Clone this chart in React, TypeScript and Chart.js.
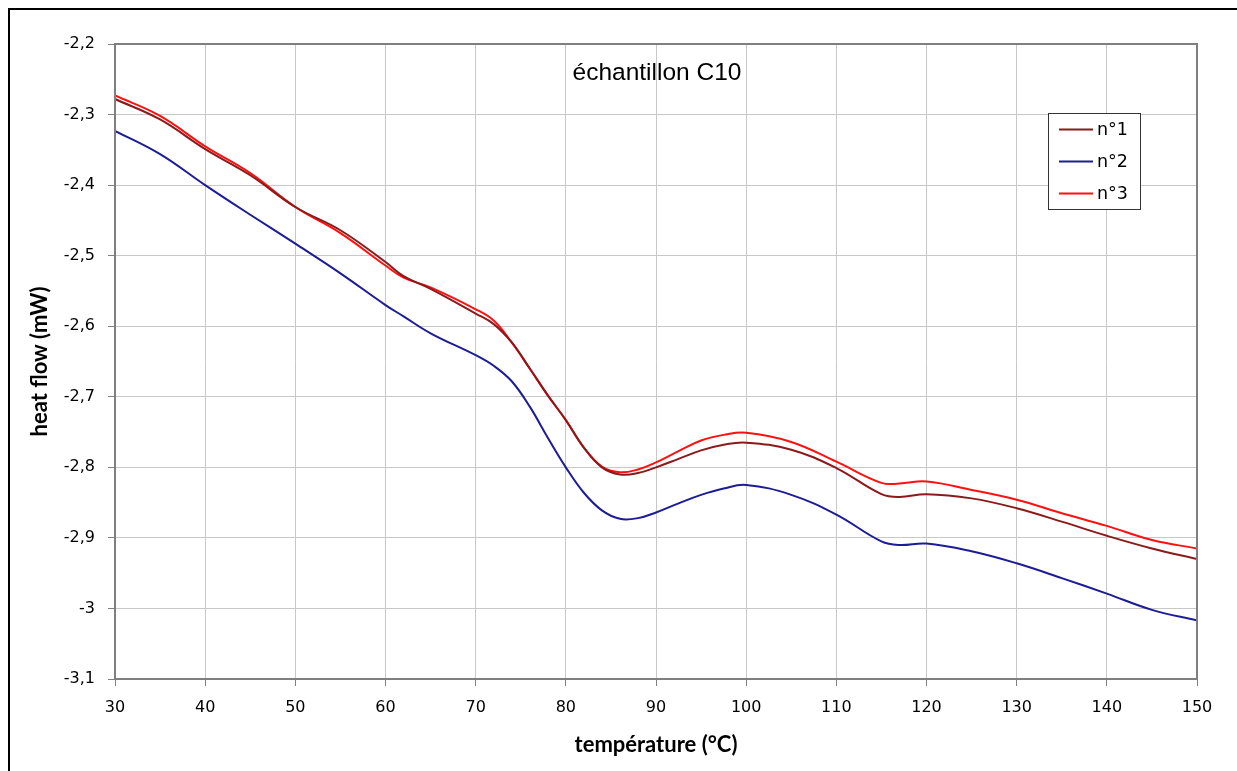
import React, { useEffect, useRef } from "react";
import { Chart, registerables } from "chart.js";

Chart.register(...registerables);

const temperatures = [30, 35, 40, 45, 50, 55, 60, 62, 65, 70, 72, 74, 76, 78, 80, 82, 84, 86, 88, 90, 92.5, 95, 97.5, 100, 105, 110, 115, 117, 120, 125, 130, 135, 140, 145, 150];

const serie1 = [-2.278, -2.307, -2.349, -2.386, -2.431, -2.464, -2.509, -2.529, -2.547, -2.582, -2.597, -2.623, -2.660, -2.698, -2.733, -2.772, -2.800, -2.810, -2.808, -2.800, -2.788, -2.776, -2.768, -2.765, -2.775, -2.801, -2.838, -2.842, -2.838, -2.844, -2.858, -2.877, -2.897, -2.915, -2.930];

const serie2 = [-2.323, -2.356, -2.400, -2.442, -2.483, -2.525, -2.570, -2.586, -2.610, -2.641, -2.656, -2.678, -2.714, -2.758, -2.800, -2.836, -2.861, -2.873, -2.872, -2.864, -2.851, -2.839, -2.830, -2.825, -2.839, -2.867, -2.905, -2.910, -2.908, -2.919, -2.936, -2.957, -2.979, -3.002, -3.017];

const serie3 = [-2.273, -2.302, -2.345, -2.383, -2.431, -2.468, -2.514, -2.531, -2.545, -2.576, -2.592, -2.623, -2.660, -2.698, -2.733, -2.772, -2.799, -2.807, -2.803, -2.793, -2.777, -2.762, -2.754, -2.751, -2.764, -2.792, -2.822, -2.823, -2.820, -2.832, -2.846, -2.865, -2.883, -2.903, -2.915];

const seriesLabels = ["n°1", "n°2", "n°3"];
const seriesColors = ["#8b1a1a", "#1c1c96", "#ff1010"];
const chartTitle = "échantillon C10";
const xTitle = "température (°C)";
const yTitle = "heat flow (mW)";

const toPoints = (vals: number[]) => vals.map((v, i) => ({ x: temperatures[i], y: v }));

const decorPlugin = {
  id: "decor",
  afterDraw(chart: any) {
    const { ctx, chartArea } = chart;
    const { left, top, right, bottom } = chartArea;
    ctx.save();
    // plot frame
    ctx.strokeStyle = "#7f7f7f";
    ctx.lineWidth = 2;
    ctx.strokeRect(left, top, right - left, bottom - top);

    // title inside plot
    ctx.fillStyle = "#000";
    ctx.font = "24.5px 'Liberation Sans', Arial, sans-serif";
    ctx.textAlign = "center";
    ctx.textBaseline = "alphabetic";
    ctx.fillText(chartTitle, 657, 80);

    // legend box
    const bx = 1048.5, by = 113.5, bw = 92, bh = 96;
    ctx.fillStyle = "#fff";
    ctx.fillRect(bx, by, bw, bh);
    ctx.strokeStyle = "#333";
    ctx.lineWidth = 1;
    ctx.strokeRect(bx, by, bw, bh);
    const rows = [129.5, 161.5, 193.5];
    ctx.font = "17.5px 'DejaVu Sans', sans-serif";
    ctx.textAlign = "left";
    ctx.textBaseline = "middle";
    chart.data.datasets.forEach((ds: any, i: number) => {
      ctx.strokeStyle = ds.borderColor;
      ctx.lineWidth = 2;
      ctx.beginPath();
      ctx.moveTo(1059, rows[i]);
      ctx.lineTo(1093, rows[i]);
      ctx.stroke();
      ctx.fillStyle = "#000";
      ctx.fillText(ds.label, 1097, rows[i] + 1);
    });
    ctx.restore();
  },
};

export default function App() {
  const canvasRef = useRef<HTMLCanvasElement | null>(null);

  useEffect(() => {
    document.documentElement.style.overflow = "hidden";
    document.body.style.overflow = "hidden";
    const canvas = canvasRef.current;
    if (!canvas) return;
    const chart = new Chart(canvas, {
      type: "line",
      data: {
        datasets: [serie1, serie2, serie3].map((s, i) => ({
          label: seriesLabels[i],
          data: toPoints(s),
          borderColor: seriesColors[i],
          backgroundColor: seriesColors[i],
          borderWidth: 2,
          pointRadius: 0,
          tension: 0.4,
          fill: false,
        })),
      },
      options: {
        responsive: false,
        animation: false,
        devicePixelRatio: 1,
        layout: { padding: { left: 0, top: 44, right: 40, bottom: 0 } },
        plugins: {
          legend: { display: false },
          title: { display: false },
          tooltip: { enabled: false },
        },
        scales: {
          x: {
            type: "linear",
            min: 30,
            max: 150,
            afterFit: (scale: any) => {
              scale.height = 92;
            },
            ticks: {
              stepSize: 10,
              padding: 12,
              color: "#000",
              font: { family: "'DejaVu Sans', sans-serif", size: 16 },
              maxRotation: 0,
            },
            grid: {
              color: "#c8c8c8",
              lineWidth: 1,
              tickLength: 7,
              tickColor: "#7f7f7f",
            },
            border: { display: false },
            title: {
              display: true,
              text: xTitle,
              color: "#000",
              font: { family: "Lato, sans-serif", size: 22, weight: "bold" },
              padding: { top: 0, bottom: 13 },
            },
          },
          y: {
            type: "linear",
            min: -3.1,
            max: -2.2,
            afterFit: (scale: any) => {
              scale.width = 115;
            },
            ticks: {
              stepSize: 0.1,
              padding: 13,
              color: "#000",
              font: { family: "'DejaVu Sans', sans-serif", size: 16 },
              callback: (v: any) => String(Number(Number(v).toFixed(1))).replace(".", ","),
            },
            grid: {
              color: "#c8c8c8",
              lineWidth: 1,
              tickLength: 7,
              tickColor: "#7f7f7f",
            },
            border: { display: false },
            title: {
              display: true,
              text: yTitle,
              color: "#000",
              font: { family: "Lato, sans-serif", size: 22, weight: "bold" },
              padding: { top: 27, bottom: 0 },
            },
          },
        },
      },
      plugins: [decorPlugin],
    });
    return () => chart.destroy();
  }, []);

  return (
    <div style={{ position: "fixed", left: 0, top: 0, width: 1237, height: 771, overflow: "hidden", background: "#fff" }}>
      <canvas ref={canvasRef} width={1237} height={771} style={{ position: "absolute", left: 0, top: 0, width: 1237, height: 771 }} />
      <div style={{ position: "absolute", left: 8, top: 8, width: 1240, height: 775, border: "2px solid #000", boxSizing: "border-box", pointerEvents: "none" }} />
    </div>
  );
}
